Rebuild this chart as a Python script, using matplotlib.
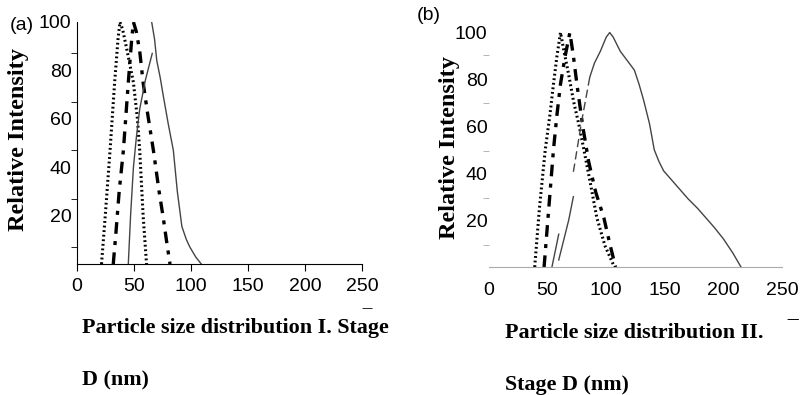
import matplotlib
import matplotlib.pyplot as plt
import numpy as np

matplotlib.use('Agg')

# panel (a) - stage I
dot_a_x = [21.5, 24.8, 29, 33, 36, 37.7, 40, 44, 49.5, 53, 55, 58, 61]
dot_a_y = [0, 20, 47, 75, 93, 100, 97, 88, 75, 60, 47, 20, 0]
dd_a_x = [31.8, 34, 37, 40.7, 45, 48, 49.5, 52, 55, 58, 62, 67, 72, 75.7, 79, 81.6]
dd_a_y = [0, 12, 30, 47, 75, 93, 100, 96, 88, 75, 62, 47, 30, 19, 8, 0]
sol_a_x = [45, 47, 49.5, 52, 55, 60, 66, np.nan,
           65.5, 68, 70, 73, 75.5, 80, 84.5, 88, 92, 96, 99, 104, 109]
sol_a_y = [0, 20, 40, 52, 64, 76, 87, np.nan,
           100, 93, 84, 77, 70, 58, 47, 30, 15.5, 10, 7, 3, 0]

# panel (b) - stage II
dot_b_x = [39, 43, 48, 52, 55, 58, 61, 64, 68, 72, 77, 81, 86, 92, 99, 107]
dot_b_y = [0, 25, 50, 65, 78, 90, 100, 92, 82, 71, 60, 50, 37, 21, 9, 0]
dd_b_x = [47, 51, 55, 58, 61, 65, 69, 72, 75, 80, 85, 91, 98, 103, 108]
dd_b_y = [0, 25, 50, 65, 78, 90, 100, 90, 78, 60, 45, 32, 21, 10, 0]
rise_b_x = [53.7, 59.5, np.nan, 59.5, 64, 68, 72]
rise_b_y = [0, 14, np.nan, 3, 12, 20, 30]
gap_b_x = [72, 79, 86]
gap_b_y = [40.6, 62, 81]
sol_b_x = [86, 90, 95, 100, 103, 106, 112, 118, 124, 128, 132, 137, 141, 145,
           149, 156, 163, 170, 178, 185, 192, 200, 208, 215]
sol_b_y = [81, 87, 92, 98, 100, 98, 92, 88, 84, 78, 71, 61, 50, 45,
           41, 37, 33, 29, 25, 21, 17, 12, 6, 0]

x_ticks = [0, 50, 100, 150, 200, 250]
y_labels = [20, 40, 60, 80, 100]

W, H = 803, 395
fig = plt.figure(figsize=(W / 100, H / 100), dpi=100)


def box(x0, x1, ytop, ybot):
    return [x0 / W, 1 - ybot / H, (x1 - x0) / W, (ybot - ytop) / H]


tick_font = {'family': 'Liberation Sans', 'size': 14}
xlab_font = {'family': 'Liberation Serif', 'weight': 'bold', 'size': 15.8}
ylab_font = {'family': 'Liberation Serif', 'weight': 'bold', 'size': 17.5}
dot_style = dict(color='black', lw=2.2, ls=(0, (0.6, 0.9)))
dd_style = dict(color='black', lw=2.4, ls=(0, (3.5, 2.2, 1.2, 2.2)))


def setup(ax, ymax, minor, spine_col):
    ax.set_xlim(0, 250)
    ax.set_ylim(0, ymax)
    for s in ['top', 'right']:
        ax.spines[s].set_visible(False)
    ax.spines['bottom'].set_color(spine_col)
    ax.set_yticks(y_labels)
    ax.set_yticklabels([str(v) for v in y_labels], fontdict=tick_font)
    ax.tick_params(axis='y', which='major', length=0)
    ax.set_yticks(minor, minor=True)
    ax.tick_params(axis='y', which='minor', length=4, color=spine_col)
    ax.set_xticks(x_ticks)
    ax.set_xticklabels([str(v) for v in x_ticks], fontdict=tick_font)


# (a)
ax1 = fig.add_axes(box(77, 362, 22, 264))
ax1.plot(dot_a_x, dot_a_y, **dot_style)
ax1.plot(dd_a_x, dd_a_y, **dd_style)
ax1.plot(sol_a_x, sol_a_y, color='#444444', lw=1.0)
setup(ax1, 100, [7, 27, 47, 67, 87], 'black')
ax1.tick_params(axis='x', length=5, pad=5)
ax1.tick_params(axis='y', which='major', pad=4)

# (b)
ax2 = fig.add_axes(box(489, 782, 29, 267))
ax2.plot(dot_b_x, dot_b_y, **dot_style)
ax2.plot(dd_b_x, dd_b_y, **dd_style)
ax2.plot(rise_b_x, rise_b_y, color='#444444', lw=1.0)
ax2.plot(gap_b_x, gap_b_y, color='#444444', lw=1.0, ls=(0, (6, 3)))
ax2.plot(sol_b_x, sol_b_y, color='#444444', lw=1.0)
setup(ax2, 101.5, [9.5, 29.5, 49.5, 70, 90.5], '#aaaaaa')
ax2.spines['left'].set_visible(False)
ax2.tick_params(axis='x', length=0, pad=11)
ax2.tick_params(axis='y', which='major', pad=1)

# labels
def ftext(px, py, s, **kw):
    fig.text(px / W, 1 - py / H, s, **kw)


ftext(19, 140, 'Relative Intensity', rotation=90, ha='center', va='center', fontdict=ylab_font)
ftext(450, 148, 'Relative Intensity', rotation=90, ha='center', va='center', fontdict=ylab_font)
ftext(82, 328, 'Particle size distribution I. Stage', ha='left', va='center', fontdict=xlab_font)
ftext(82, 380, 'D (nm)', ha='left', va='center', fontdict=xlab_font)
ftext(505, 333, 'Particle size distribution II.', ha='left', va='center', fontdict=xlab_font)
ftext(505, 385, 'Stage D (nm)', ha='left', va='center', fontdict=xlab_font)
ftext(367, 308, '\u2014', ha='center', va='center', fontsize=8, family='DejaVu Sans')
ftext(793, 320, '\u2014', ha='center', va='center', fontsize=9, family='DejaVu Sans')
ftext(22, 25, '(a)', ha='center', va='center', fontdict=tick_font)
ftext(429, 15, '(b)', ha='center', va='center', fontdict=tick_font)

fig.savefig('out.png', dpi=100, facecolor='white')
